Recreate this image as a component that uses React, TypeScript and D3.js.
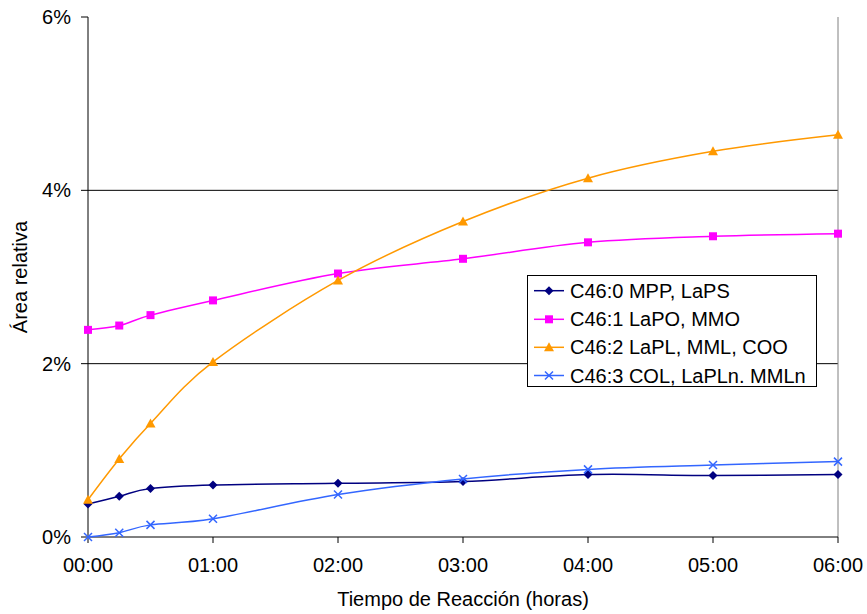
import React from "react";
import * as d3 from "d3";

const hours = [0, 0.25, 0.5, 1, 2, 3, 4, 5, 6];
const c460 = [0.38, 0.47, 0.56, 0.6, 0.62, 0.64, 0.72, 0.71, 0.72];
const c461 = [2.39, 2.44, 2.56, 2.73, 3.04, 3.21, 3.4, 3.47, 3.5];
const c462 = [0.43, 0.9, 1.31, 2.02, 2.96, 3.64, 4.14, 4.45, 4.64];
const c463 = [0.0, 0.05, 0.14, 0.21, 0.49, 0.67, 0.78, 0.83, 0.87];
const seriesNames = [
  "C46:0 MPP, LaPS",
  "C46:1 LaPO, MMO",
  "C46:2 LaPL, MML, COO",
  "C46:3 COL, LaPLn. MMLn",
];
const xTickValues = [0, 1, 2, 3, 4, 5, 6];
const xTickLabels = ["00:00", "01:00", "02:00", "03:00", "04:00", "05:00", "06:00"];
const yTickValues = [0, 2, 4, 6];
const yTickLabels = ["0%", "2%", "4%", "6%"];

const colors = ["#000080", "#FF00FF", "#FF9900", "#3366FF"];
const markers = ["diamond", "square", "triangle", "x"];
const FONT = "'Liberation Sans', Arial, sans-serif";

function Marker({ type, x, y, color }: { type: string; x: number; y: number; color: string }) {
  if (type === "diamond") {
    const s = 4.5;
    return <path d={`M${x},${y - s}L${x + s},${y}L${x},${y + s}L${x - s},${y}Z`} fill={color} />;
  }
  if (type === "square") {
    const s = 4;
    return <rect x={x - s} y={y - s} width={2 * s} height={2 * s} fill={color} />;
  }
  if (type === "triangle") {
    const s = 5;
    return <path d={`M${x},${y - s}L${x + s},${y + s * 0.8}L${x - s},${y + s * 0.8}Z`} fill={color} />;
  }
  const s = 4;
  return (
    <path
      d={`M${x - s},${y - s}L${x + s},${y + s}M${x - s},${y + s}L${x + s},${y - s}`}
      stroke={color}
      strokeWidth={1.5}
      fill="none"
    />
  );
}

export default function App() {
  const W = 867;
  const H = 614;
  const left = 88;
  const right = 838;
  const top = 17;
  const bottom = 537;
  const x = d3.scaleLinear().domain([0, 6]).range([left, right]);
  const y = d3.scaleLinear().domain([0, 6]).range([bottom, top]);
  const data = [c460, c461, c462, c463];
  const line = d3
    .line<number>()
    .x((_, i) => x(hours[i]))
    .y((d) => y(d))
    .curve(d3.curveCardinal.tension(0));

  const legX = 527.5;
  const legY = 275.5;
  const legW = 289;
  const legH = 111;
  const rowY = [290.7, 319.3, 347.3, 375.5];

  return (
    <svg
      width={W}
      height={H}
      style={{ position: "absolute", left: 0, top: 0, background: "#fff" }}
      fontFamily={FONT}
    >
      <rect x={0} y={0} width={W} height={H} fill="#fff" />
      {/* gridlines */}
      {yTickValues
        .filter((v) => v > 0 && v < 6)
        .map((v) => (
          <line key={v} x1={left} x2={right} y1={y(v)} y2={y(v)} stroke="#000" strokeWidth={1} />
        ))}
      {/* right border */}
      <line x1={right} x2={right} y1={top} y2={bottom} stroke="#808080" strokeWidth={1} />
      {/* axes */}
      <line x1={left} x2={left} y1={top} y2={bottom} stroke="#000" strokeWidth={1} />
      <line x1={left} x2={right} y1={bottom} y2={bottom} stroke="#000" strokeWidth={1} />
      {yTickValues.map((v, i) => (
        <g key={v}>
          <line x1={left - 7} x2={left} y1={y(v)} y2={y(v)} stroke="#000" />
          <text x={71} y={y(v) + 7} textAnchor="end" fontSize={20} fill="#000">
            {yTickLabels[i]}
          </text>
        </g>
      ))}
      {xTickValues.map((v, i) => (
        <g key={v}>
          <line x1={x(v)} x2={x(v)} y1={bottom} y2={bottom + 6} stroke="#000" />
          <text x={x(v)} y={572} textAnchor="middle" fontSize={20} fill="#000">
            {xTickLabels[i]}
          </text>
        </g>
      ))}
      <text x={463} y={606} textAnchor="middle" fontSize={20} fill="#000">
        Tiempo de Reacción (horas)
      </text>
      <text
        transform={`translate(27,${(top + bottom) / 2}) rotate(-90)`}
        textAnchor="middle"
        fontSize={20}
        fill="#000"
      >
        Área relativa
      </text>
      {/* series */}
      {data.map((vals, si) => (
        <g key={si}>
          <path d={line(vals) || ""} fill="none" stroke={colors[si]} strokeWidth={1.5} />
          {vals.map((v, i) => (
            <Marker key={i} type={markers[si]} x={x(hours[i])} y={y(v)} color={colors[si]} />
          ))}
        </g>
      ))}
      {/* legend */}
      <rect x={legX} y={legY} width={legW} height={legH} fill="#fff" stroke="#000" strokeWidth={1} />
      {seriesNames.map((name, i) => (
        <g key={name}>
          <line x1={534} x2={564} y1={rowY[i]} y2={rowY[i]} stroke={colors[i]} strokeWidth={1.5} />
          <Marker type={markers[i]} x={549} y={rowY[i]} color={colors[i]} />
          <text x={570} y={rowY[i] + 7} fontSize={20} fill="#000">
            {name}
          </text>
        </g>
      ))}
    </svg>
  );
}
